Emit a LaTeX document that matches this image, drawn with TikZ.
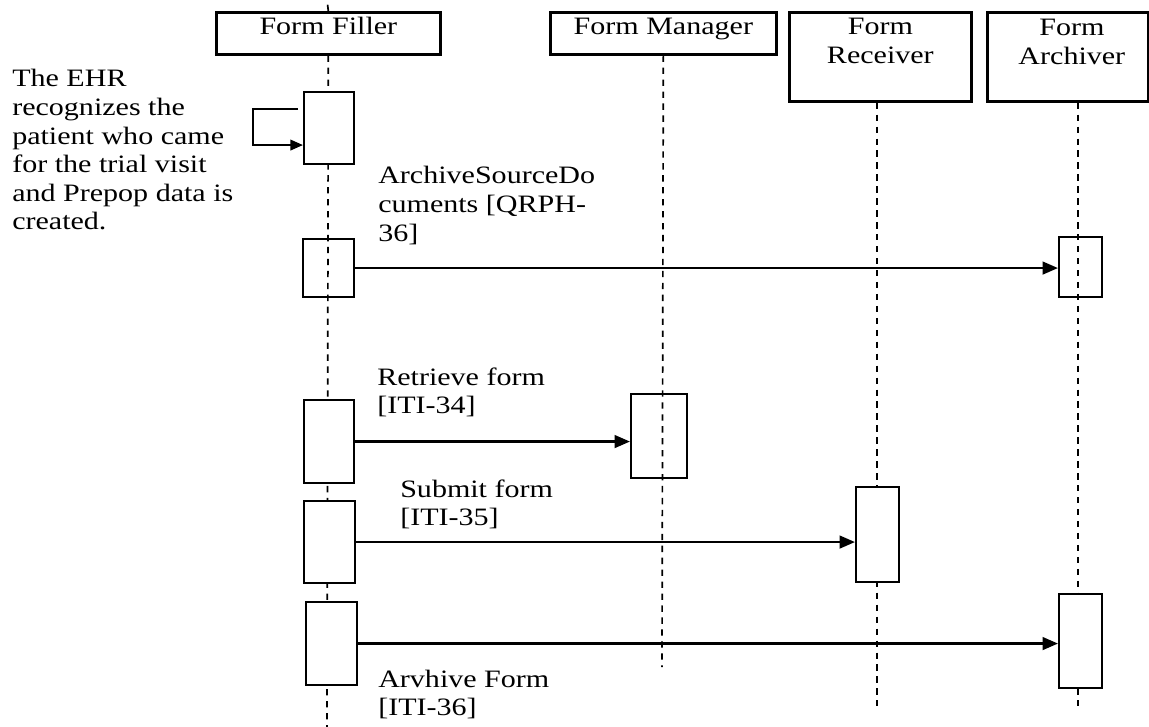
\documentclass[tikz,border=0pt]{standalone}
\usepackage{fontspec}
\setmainfont{Liberation Serif}
\usepackage{graphicx}
\usetikzlibrary{arrows.meta, calc}

% wide text block (the drawing is stretched sideways)
\newcommand{\wtext}[2][l]{\scalebox{1.2}[1]{\begin{tabular}[t]{@{}#1@{}}#2\end{tabular}}}

\begin{document}
\begin{tikzpicture}[x=0.025cm, y=-0.025cm, font=\fontsize{17.8}{20.3}\selectfont]

    % --- Dimensions ---
    \def\PX{0.025cm}

    \tikzset{
        actor/.style={draw, line width=1.9pt, anchor=north west, inner sep=0pt},
        act/.style={draw, line width=1.5pt, anchor=north west, inner sep=0pt},
        life/.style={line width=1.2pt, dash pattern=on 4.5pt off 4pt},
        msg/.style={line width=1.8pt, -{Triangle[length=11pt, width=9pt]}},
        txt/.style={anchor=base west, inner sep=0pt},
        head/.style={anchor=base, inner sep=0pt}
    }

    \useasboundingbox (0,0) rectangle (1149,727);

    % --- Actor boxes ---
    \node[actor, minimum width=224*\PX, minimum height=42*\PX] (ff) at (215,11) {};
    \node[actor, minimum width=226*\PX, minimum height=42*\PX] (fm) at (549,11) {};
    \node[actor, minimum width=182*\PX, minimum height=89*\PX] (fr) at (788,11) {};
    \node[actor, minimum width=161*\PX, minimum height=89*\PX] (fa) at (986,11) {};

    \node[head] (ffT) at ([yshift=-24*\PX]ff.north) {\wtext[c]{Form Filler}};
    \node[head] (fmT) at ([yshift=-24*\PX]fm.north) {\wtext[c]{Form Manager}};
    \node[head] (frT) at ([yshift=-24*\PX]fr.north) {\wtext[c]{Form\\Receiver}};
    \node[head] (faT) at ([xshift=4*\PX, yshift=-25*\PX]fa.north) {\wtext[c]{Form\\Archiver}};

    % --- Lifelines ---
    \coordinate (ffTop) at (327,0);
    \coordinate (ffEnd) at (327,727);
    \coordinate (fmEnd) at (662,667);
    \coordinate (frEnd) at (877,706);
    \coordinate (faEnd) at (1078,706);

    \draw[life] (ff.north) -- (ffTop);
    \draw[life] (ff.south) -- (ffEnd);
    \draw[life] (fm.south) -- (fmEnd);
    \draw[life] (fr.south -| frEnd) -- (frEnd);
    \draw[life] (fa.south -| faEnd) -- (faEnd);

    % --- Activation boxes ---
    \node[act, fill=white, minimum width=50*\PX, minimum height=72*\PX] (a1) at (303,91) {};

    \node[act, minimum width=51*\PX, minimum height=58*\PX] (a2l) at (302,238) {};
    \node[act, minimum width=43*\PX, minimum height=60*\PX] (a2r) at (1058,236) {};

    \node[act, fill=white, minimum width=50*\PX, minimum height=83*\PX] (a3l) at (303,399) {};
    \node[act, minimum width=56*\PX, minimum height=84*\PX] (a3r) at (630,393) {};

    \node[act, fill=white, minimum width=51*\PX, minimum height=82*\PX] (a4l) at (303,500) {};
    \node[act, fill=white, minimum width=43*\PX, minimum height=95*\PX] (a4r) at (855,486) {};

    \node[act, fill=white, minimum width=51*\PX, minimum height=83*\PX] (a5l) at (305,601) {};
    \node[act, fill=white, minimum width=43*\PX, minimum height=94*\PX] (a5r) at (1058,593) {};

    % --- Self call ---
    \draw[line width=1.5pt, -{Triangle[length=9pt, width=7.5pt]}]
        ($(a1.west)+(-5,-19)$) -- ++(-45,0) |- ($(a1.west)+(0,17)$);
    \node[txt] (ehrT) at (12,87)
        {\wtext{The EHR\\recognizes the\\patient who came\\for the trial visit\\and Prepop data is\\created.}};

    % --- Messages ---
    \draw[msg] (a2l.east) -- (a2l.east -| a2r.west);
    \node[txt] (m1T) at (378,184) {\wtext{ArchiveSourceDo\\cuments [QRPH-\\36]}};

    \draw[msg] (a3l.east) -- (a3l.east -| a3r.west);
    \node[txt] (m2T) at (377,385) {\wtext{Retrieve form\\{[ITI-34]}}};

    \draw[msg] (a4l.east) -- (a4l.east -| a4r.west);
    % label box covers the upper half of the line
    \fill[white] (399,480) rectangle (595,541.2);
    \node[txt] (m3T) at (400,497) {\wtext{Submit form\\{[ITI-35]}}};

    \draw[msg] (a5l.east) -- (a5l.east -| a5r.west);
    \node[txt] (m4T) at (378,687) {\wtext{Arvhive Form\\{[ITI-36]}}};

\end{tikzpicture}
\end{document}
